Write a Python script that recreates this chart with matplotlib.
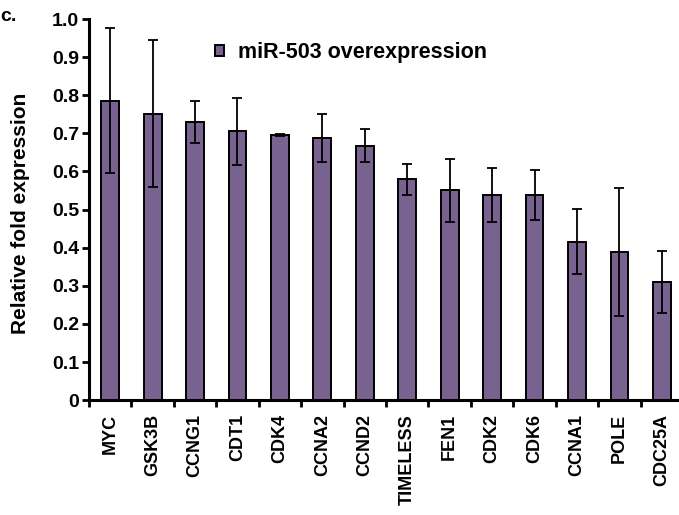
import matplotlib
matplotlib.use("Agg")
import matplotlib.pyplot as plt
import numpy as np

genes = ["MYC", "GSK3B", "CCNG1", "CDT1", "CDK4", "CCNA2", "CCND2",
         "TIMELESS", "FEN1", "CDK2", "CDK6", "CCNA1", "POLE", "CDC25A"]
fold = [0.786, 0.752, 0.730, 0.705, 0.695, 0.688, 0.668,
        0.579, 0.551, 0.539, 0.539, 0.416, 0.388, 0.311]
err = [0.190, 0.192, 0.055, 0.089, 0.003, 0.064, 0.043,
       0.040, 0.083, 0.071, 0.066, 0.085, 0.168, 0.081]
yticks = [0, 0.1, 0.2, 0.3, 0.4, 0.5, 0.6, 0.7, 0.8, 0.9, 1.0]
ytick_labels = ["0", "0.1", "0.2", "0.3", "0.4", "0.5", "0.6",
                "0.7", "0.8", "0.9", "1.0"]

plt.rcParams["font.family"] = ["Liberation Sans", "DejaVu Sans"]
plt.rcParams["font.weight"] = "bold"

fig = plt.figure(figsize=(6.79, 5.15), dpi=100)
ax = fig.add_axes([0.131, 0.223, 0.875, 0.740])

x = np.arange(len(genes))
ax.bar(x, fold, width=0.42, color="#78628f", edgecolor="black",
       linewidth=1.4, label="miR-503 overexpression", zorder=2)
ax.errorbar(x, fold, yerr=err, fmt="none", ecolor="black",
            elinewidth=1.3, capsize=3.3, capthick=1.3, zorder=3)

ax.set_xlim(-0.5, len(genes) - 0.5)
ax.set_ylim(0, 1.0)
ax.set_yticks(yticks)
ax.set_yticklabels(ytick_labels, fontsize=14, fontweight="bold")
ax.set_xticks(x)
ax.set_xticklabels(genes, rotation=90, fontsize=13, fontweight="bold")
ax.set_xticks(np.arange(-0.5, len(genes), 1.0), minor=True)
ax.tick_params(axis="x", which="major", length=0, pad=10)
ax.tick_params(axis="x", which="minor", length=5, width=2, direction="out")
ax.tick_params(axis="y", length=5, width=2, direction="out", pad=2)

for side in ("top", "right"):
    ax.spines[side].set_visible(False)
for side in ("left", "bottom"):
    ax.spines[side].set_linewidth(2.2)

ax.set_ylabel("Relative fold expression", fontsize=15, fontweight="bold",
              va="center")
ax.yaxis.set_label_coords(-0.116, 0.49)

ax.legend(loc="upper left", bbox_to_anchor=(0.18, 0.99), frameon=False,
          handlelength=0.4, handleheight=0.4, handletextpad=0.65,
          prop={"weight": "bold", "size": 15.5})

fig.text(0.0, 0.985, "c.", fontsize=14, fontweight="bold", va="top")

fig.savefig("out.png", dpi=100)
